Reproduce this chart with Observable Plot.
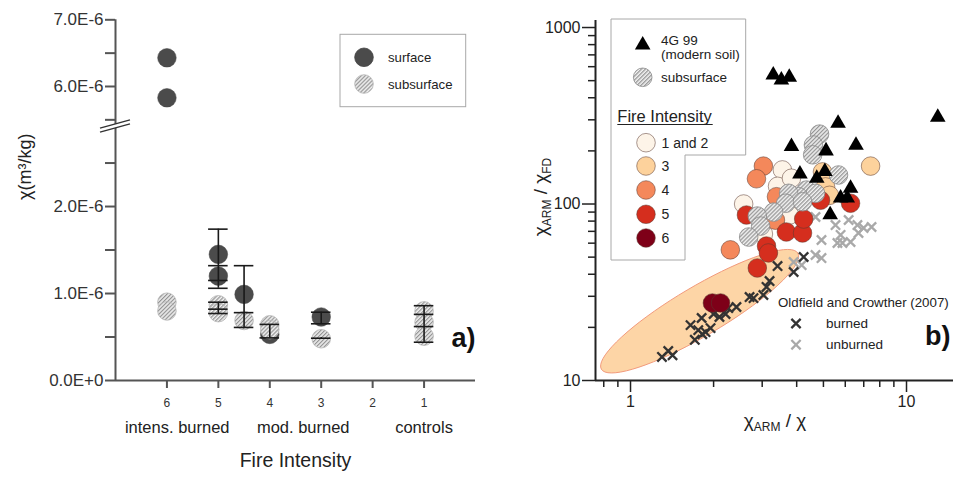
<!DOCTYPE html>
<html><head><meta charset="utf-8">
<script src="https://cdn.jsdelivr.net/npm/d3@7"></script>
<script src="https://cdn.jsdelivr.net/npm/@observablehq/plot@0.6"></script>
<style>
html,body{margin:0;padding:0;background:#fff;overflow:hidden}
#wrap{position:relative;width:953px;height:477px;overflow:hidden}
#pa{position:absolute;left:0;top:0}
#pb{position:absolute;left:480px;top:0}
</style></head><body>
<svg width="0" height="0" style="position:absolute"><defs>
<pattern id="hatch" patternUnits="userSpaceOnUse" width="2.8" height="2.8" patternTransform="rotate(45)">
<rect width="2.8" height="2.8" fill="#f2f2f2"/><line x1="0.7" y1="0" x2="0.7" y2="2.8" stroke="#777" stroke-width="0.95"/>
</pattern></defs></svg>
<div id="wrap"><div id="pa"></div><div id="pb"></div></div>
<script>
// ---------- Panel a data ----------
const xTicksA = [6, 5, 4, 3, 2, 1];
const yTicksA = [0, 0.5e-6, 1e-6, 1.5e-6, 2e-6, 2.5e-6, 5.5e-6, 6e-6, 6.5e-6, 7e-6];
const surfaceA = [
  {x: 6, v: 6.43e-6}, {x: 6, v: 5.83e-6}, {x: 5, v: 1.45e-6}, {x: 5, v: 1.20e-6},
  {x: 4.5, v: 0.99e-6}, {x: 4, v: 0.53e-6}, {x: 3, v: 0.73e-6}
];
const subsurfaceA = [
  {x: 6, v: 0.90e-6}, {x: 6, v: 0.80e-6}, {x: 5, v: 0.87e-6}, {x: 5, v: 0.78e-6},
  {x: 4.5, v: 0.69e-6}, {x: 4, v: 0.64e-6}, {x: 4, v: 0.585e-6}, {x: 3, v: 0.48e-6},
  {x: 1, v: 0.80e-6}, {x: 1, v: 0.67e-6}, {x: 1, v: 0.51e-6}
];
const barsA = [
  {x: 5, lo: 1.06e-6, hi: 1.74e-6}, {x: 5, lo: 0.77e-6, hi: 0.90e-6},
  {x: 4.5, lo: 0.61e-6, hi: 1.32e-6}, {x: 4, lo: 0.49e-6, hi: 0.645e-6},
  {x: 3, lo: 0.652e-6, hi: 0.785e-6}, {x: 3, lo: 0.476e-6, hi: 0.492e-6},
  {x: 1, lo: 0.44e-6, hi: 0.86e-6}
];
const capsA = [
  {x: 5, v: 1.74e-6}, {x: 5, v: 1.32e-6}, {x: 5, v: 1.15e-6}, {x: 5, v: 1.06e-6},
  {x: 5, v: 0.90e-6}, {x: 5, v: 0.82e-6}, {x: 5, v: 0.77e-6},
  {x: 4.5, v: 1.32e-6}, {x: 4.5, v: 0.78e-6}, {x: 4.5, v: 0.61e-6},
  {x: 4, v: 0.645e-6}, {x: 4, v: 0.49e-6},
  {x: 3, v: 0.785e-6}, {x: 3, v: 0.652e-6}, {x: 3, v: 0.486e-6},
  {x: 1, v: 0.86e-6}, {x: 1, v: 0.76e-6}, {x: 1, v: 0.62e-6}, {x: 1, v: 0.44e-6}
];
const groupLabelsA = [
  {x: 5.8, label: "intens. burned"}, {x: 3.35, label: "mod. burned"}, {x: 1.0, label: "controls"}
];
const legendA = [{label: "surface"}, {label: "subsurface"}];

// ---------- Panel b data (x = χARM/χ, y = χARM/χFD) ----------
const tri4G = [[3.29,538],[3.52,504],[3.76,522],[5.65,287],[12.98,310],[3.83,212],[5.11,200],[6.56,215],
  [4.11,148],[5.06,153],[4.73,140],[6.27,123],[5.77,108],[6.10,108],[5.29,87]];
const subsurfaceB = [[4.84,249],[4.60,216],[4.57,190],[5.67,146],[4.34,120],[4.06,110],[3.74,115],
  [3.65,101],[3.30,90],[2.88,85.5],[2.96,75],[2.68,65],[4.68,115],[4.20,103]];
const int12 = [[2.57,100],[3.55,156],[3.41,126],[3.83,140],[3.77,86.6],[3.03,67.6]];
const int3 = [[7.41,164],[4.96,152],[5.09,125],[5.26,112]];
const int4 = [[3.03,164],[2.86,139],[3.38,110],[3.35,81],[2.30,55]];
const int5 = [[2.63,86.6],[3.67,69.4],[4.20,68.5],[4.24,82.2],[3.11,57.8],[3.16,52.8],[2.88,43.4],[4.88,105],[6.27,101]];
const int6 = [[1.98,27.5],[2.12,27.5]];
const burnedB = [[1.30,13.6],[1.37,14.7],[1.42,13.9],[1.65,20.6],[1.71,17.0],[1.81,22.6],[1.76,19.3],[1.87,18.8],
  [1.95,19.8],[1.82,18.3],[2.00,23.8],[2.10,22.9],[2.21,23.8],[2.26,25.7],[2.42,26.1],[2.70,29.7],[2.79,29.3],
  [3.03,30.5],[3.11,33.9],[3.19,36.6],[3.41,44.5],[3.90,41.2],[4.24,50.1]];
const unburnedB = [[3.90,46.9],[4.17,45.1],[4.68,51.4],[4.92,49.4],[4.92,62.5],[4.68,84.4],[5.53,76],[5.77,66.8],
  [6.17,81.2],[6.64,76],[6.99,73.1],[7.47,74.1],[6.27,60.9],[6.70,68.5],[5.86,60.1],[5.62,60.1]];
const fireLevels = ["1 and 2", "3", "4", "5", "6"];
const fireColors = ["#fdf4e8", "#fdd29c", "#f4885b", "#d52e1e", "#7e0018"];
const xTicksMajorB = [1, 10];
const xTicksMinorB = [0.8, 0.9, 2, 3, 4, 5, 6, 7, 8, 9];
const yTicksMajorB = [10, 100, 1000];
const yTicksMinorB = [20, 30, 40, 50, 60, 70, 80, 90, 200, 300, 400, 500, 600, 700, 800, 900];
// ellipse (log10 units): centre, major and minor semi-axis vectors
const ellipseB = {cx: 1.78, cy: 24.7, ax: 0.356, ay: 0.3287, bx: 0.0450, by: -0.120};

const FONT = '"Liberation Sans", Arial, Helvetica, sans-serif';
const INK = "#222";

// ---------- Panel a ----------
const fmtA = d => {
  const m = d * 1e6;
  if (Math.abs(m - Math.round(m)) > 1e-6) return "";
  return m === 0 ? "0.0E+0" : m.toFixed(1) + "E-6";
};
const capHalf = 0.19;
const breakAt = 2.92e-6;
function breakMark(index, scales) {
  const x0 = scales.x(7), y0 = scales.y(breakAt);
  const g = d3.create("svg:g");
  const s = 0.28, w = 15, gap = 2;
  g.append("polygon")
    .attr("points", [[x0 - w, y0 + w*s - gap],[x0 + w, y0 - w*s - gap],[x0 + w, y0 - w*s + gap],[x0 - w, y0 + w*s + gap]].map(p => p.join(",")).join(" "))
    .attr("fill", "#fff");
  for (const o of [-gap, gap]) {
    g.append("line").attr("x1", x0 - w).attr("y1", y0 + w*s + o).attr("x2", x0 + w).attr("y2", y0 - w*s + o)
      .attr("stroke", "#333").attr("stroke-width", 1.3);
  }
  return g.node();
}
const plotA = Plot.plot({
  width: 480, height: 477,
  marginLeft: 115, marginRight: 5, marginTop: 19, marginBottom: 97,
  style: {fontFamily: FONT, background: "transparent", overflow: "visible"},
  x: {type: "linear", domain: [7, 0]},
  y: {type: "linear", domain: [0, breakAt, 5.40e-6, 7e-6], range: [380, 126, 126, 19.3]},
  marks: [
    Plot.axisY({ticks: yTicksA, tickFormat: fmtA, tickSize: 10, tickPadding: 2, fontSize: 17,
      stroke: "#555", strokeWidth: 2, fill: "#333", label: null}),
    Plot.axisX({ticks: xTicksA, tickFormat: d => String(d), tickSize: 8, tickPadding: 10, fontSize: 12,
      stroke: "#555", strokeWidth: 2, fill: "#333", label: null}),
    Plot.ruleX([7], {y1: 0, y2: 7e-6, stroke: "#555", strokeWidth: 2}),
    Plot.ruleY([0], {x1: 7, x2: 0, stroke: "#555", strokeWidth: 2}),
    breakMark,
    Plot.dot(surfaceA, {x: "x", y: "v", r: 9.3, fill: "#4b4b4b", stroke: "#444", strokeWidth: 0.5}),
    Plot.dot(subsurfaceA, {x: "x", y: "v", r: 9.3, fill: "url(#hatch)", stroke: "#b5b5b5", strokeWidth: 0.8}),
    Plot.ruleX(barsA, {x: "x", y1: "lo", y2: "hi", stroke: "#1a1a1a", strokeWidth: 1.6}),
    Plot.ruleY(capsA, {y: "v", x1: d => d.x + capHalf, x2: d => d.x - capHalf, stroke: "#1a1a1a", strokeWidth: 1.6}),
    Plot.text(groupLabelsA, {x: "x", text: "label", frameAnchor: "bottom", dy: 52, fontSize: 16.5, fill: INK}),
    Plot.text([{x: 3.5, label: "Fire Intensity"}], {x: "x", text: "label", frameAnchor: "bottom", dy: 86, fontSize: 19.5, fill: INK}),
    Plot.text([{label: "χ(m³/kg)"}], {text: "label", frameAnchor: "left", dx: -90, rotate: -90, fontSize: 18, fill: INK})
  ]
});
document.getElementById("pa").appendChild(plotA);
{
  const svg = d3.select(plotA);
  const g = svg.append("g").attr("font-family", FONT).attr("text-anchor", "start");
  g.append("rect").attr("x", 340).attr("y", 34.3).attr("width", 125.7).attr("height", 72.4)
    .attr("fill", "#fff").attr("stroke", "#a8a8a8").attr("stroke-width", 1);
  const items = g.selectAll("g.it").data(legendA).join("g").attr("transform", (d, i) => `translate(364,${57.3 + i * 26.7})`);
  items.append("circle").attr("r", 9.3)
    .attr("fill", (d, i) => i === 0 ? "#4b4b4b" : "url(#hatch)")
    .attr("stroke", (d, i) => i === 0 ? "#444" : "#b5b5b5").attr("stroke-width", 0.8);
  items.append("text").attr("x", 24).attr("dy", "0.35em").attr("font-size", 13.2).attr("fill", INK).text(d => d.label);
  g.append("text").attr("x", 451.5).attr("y", 338).attr("dy", "0.35em").attr("font-size", 27)
    .attr("font-weight", "bold").attr("fill", "#111").text("a)");
}

// ---------- Panel b ----------
const toObj = (arr, extra = {}) => arr.map(([x, y]) => ({x, y, ...extra}));
const fireData = [int12, int3, int4, int5, int6].flatMap((arr, i) => toObj(arr, {level: fireLevels[i]}));
const ellipsePts = d3.range(0, 73).map(i => {
  const t = i / 72 * 2 * Math.PI;
  const lx = Math.log10(ellipseB.cx) + ellipseB.ax * Math.cos(t) + ellipseB.bx * Math.sin(t);
  const ly = Math.log10(ellipseB.cy) + ellipseB.ay * Math.cos(t) + ellipseB.by * Math.sin(t);
  return {x: 10 ** lx, y: 10 ** ly};
});
const xDomB = [0.7467, 14.8];
const plotB = Plot.plot({
  width: 473, height: 477,
  marginLeft: 115, marginRight: 0, marginTop: 20, marginBottom: 97,
  style: {fontFamily: FONT, background: "transparent", overflow: "visible"},
  x: {type: "log", domain: xDomB},
  y: {type: "log", domain: [10, 1096]},
  color: {domain: fireLevels, range: fireColors},
  marks: [
    Plot.line(ellipsePts, {x: "x", y: "y", fill: "#fdd5a6", stroke: "#f29a7c", strokeWidth: 1}),
    Plot.axisY({ticks: yTicksMajorB, tickFormat: d => String(d), tickSize: 13, tickPadding: 2, fontSize: 16,
      stroke: "#222", strokeWidth: 1.5, fill: "#222", label: null}),
    Plot.axisY({ticks: yTicksMinorB, tickFormat: () => "", tickSize: 7, stroke: "#222", strokeWidth: 1.5, label: null}),
    Plot.axisX({ticks: xTicksMajorB, tickFormat: d => String(d), tickSize: 12, tickPadding: 3, fontSize: 16,
      stroke: "#222", strokeWidth: 1.5, fill: "#222", label: null}),
    Plot.axisX({ticks: xTicksMinorB, tickFormat: () => "", tickSize: 7, stroke: "#222", strokeWidth: 1.5, label: null}),
    Plot.ruleX([xDomB[0]], {stroke: "#222", strokeWidth: 2}),
    Plot.ruleY([10], {stroke: "#222", strokeWidth: 2}),
    Plot.dot(toObj(unburnedB), {x: "x", y: "y", symbol: "times", r: 4.3, stroke: "#a9a9a9", strokeWidth: 2.3}),
    Plot.dot(toObj(burnedB), {x: "x", y: "y", symbol: "times", r: 4.3, stroke: "#333", strokeWidth: 2.3}),
    Plot.dot(fireData, {x: "x", y: "y", r: 9.3, fill: "level", stroke: "#5a3a30", strokeOpacity: 0.75, strokeWidth: 0.7}),
    Plot.dot(toObj(subsurfaceB), {x: "x", y: "y", r: 9.3, fill: "url(#hatch)", stroke: "#8a8a8a", strokeWidth: 0.8}),
    Plot.dot(toObj(tri4G), {x: "x", y: "y", symbol: "triangle", r: 5.8, fill: "#000", stroke: "none"})
  ]
});
document.getElementById("pb").appendChild(plotB);
{
  const svg = d3.select(plotB);
  const g = svg.append("g").attr("font-family", FONT).attr("fill", INK).attr("text-anchor", "start");
  // legend box
  g.append("polygon").attr("points", "131,19 265.7,19 265.7,155 205,155 205,260 131,260")
    .attr("fill", "#fff").attr("stroke", "#a8a8a8").attr("stroke-width", 1);
  g.append("path").attr("d", d3.symbol(d3.symbolTriangle, Math.PI * 5.8 * 5.8)()).attr("transform", "translate(162.7,45)").attr("fill", "#000");
  g.append("text").attr("x", 181).attr("y", 40).attr("dy", "0.35em").attr("font-size", 13.5).text("4G 99");
  g.append("text").attr("x", 181).attr("y", 54.5).attr("dy", "0.35em").attr("font-size", 13.5).text("(modern soil)");
  g.append("circle").attr("cx", 162.7).attr("cy", 77.3).attr("r", 9.3).attr("fill", "url(#hatch)").attr("stroke", "#8a8a8a").attr("stroke-width", 0.8);
  g.append("text").attr("x", 181).attr("y", 77.3).attr("dy", "0.35em").attr("font-size", 13.5).text("subsurface");
  g.append("text").attr("x", 137.3).attr("y", 116.5).attr("dy", "0.35em").attr("font-size", 16.5).text("Fire Intensity");
  g.append("line").attr("x1", 137.3).attr("x2", 232.7).attr("y1", 124.5).attr("y2", 124.5).attr("stroke", INK).attr("stroke-width", 1.2);
  const fy = [142.7, 166, 190, 214.3, 238];
  const it = g.selectAll("g.fi").data(fireLevels).join("g").attr("transform", (d, i) => `translate(166,${fy[i]})`);
  it.append("circle").attr("r", 9.3).attr("fill", (d, i) => fireColors[i]).attr("stroke", "#5a3a30").attr("stroke-opacity", 0.75).attr("stroke-width", 0.7);
  it.append("text").attr("x", 15.5).attr("dy", "0.35em").attr("font-size", 14).text(d => d);
  // Oldfield legend
  g.append("text").attr("x", 298).attr("y", 302).attr("dy", "0.35em").attr("font-size", 13.3).text("Oldfield and Crowther (2007)");
  const times = d3.symbol(d3.symbolTimes, Math.PI * 4.3 * 4.3)();
  g.append("path").attr("d", times).attr("transform", "translate(316,323.5)").attr("fill", "none").attr("stroke", "#333").attr("stroke-width", 2.3);
  g.append("path").attr("d", times).attr("transform", "translate(316,344.7)").attr("fill", "none").attr("stroke", "#a9a9a9").attr("stroke-width", 2.3);
  g.append("text").attr("x", 346).attr("y", 323.5).attr("dy", "0.35em").attr("font-size", 13.5).text("burned");
  g.append("text").attr("x", 346).attr("y", 344.7).attr("dy", "0.35em").attr("font-size", 13.5).text("unburned");
  g.append("text").attr("x", 445).attr("y", 336).attr("dy", "0.35em").attr("font-size", 27).attr("font-weight", "bold").attr("fill", "#111").text("b)");
  // axis titles with subscripts
  const xt = g.append("text").attr("x", 295).attr("y", 420).attr("dy", "0.35em").attr("text-anchor", "middle").attr("font-size", 19);
  xt.append("tspan").text("χ");
  xt.append("tspan").attr("font-size", 12).attr("dy", 4).text("ARM");
  xt.append("tspan").attr("dy", -4).text(" / χ");
  const yt = g.append("text").attr("transform", "translate(60,197) rotate(-90)").attr("dy", "0.35em").attr("text-anchor", "middle").attr("font-size", 19);
  yt.append("tspan").text("χ");
  yt.append("tspan").attr("font-size", 12).attr("dy", 4).text("ARM");
  yt.append("tspan").attr("dy", -4).text(" / χ");
  yt.append("tspan").attr("font-size", 12).attr("dy", 4).text("FD");
}
</script>
</body></html>
